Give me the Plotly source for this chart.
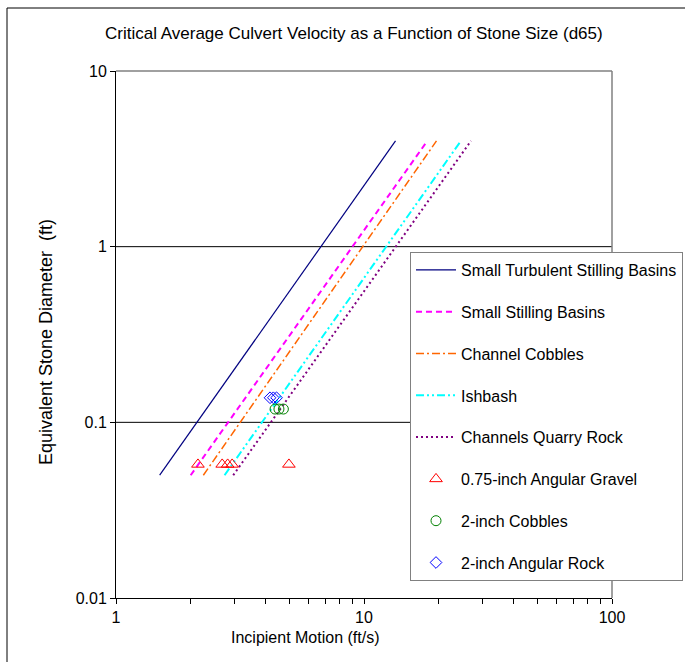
import plotly.graph_objects as go

# ---- data ----
line_names = ["Small Turbulent Stilling Basins", "Small Stilling Basins", "Channel Cobbles",
              "Ishbash", "Channels Quarry Rock"]
line_v = [[1.5, 13.4], [2.0, 18.0], [2.25, 19.6], [2.74, 24.6], [2.97, 27.0]]
line_d = [[0.05, 4.0], [0.05, 4.0], [0.05, 4.0], [0.05, 4.0], [0.05, 4.0]]

gravel_v = [2.14, 2.68, 2.82, 2.94, 4.98]
gravel_d = [0.0576, 0.0576, 0.0576, 0.0576, 0.0576]
cobble_v = [4.38, 4.54, 4.73]
cobble_d = [0.119, 0.119, 0.119]
rock_v = [4.18, 4.31, 4.44]
rock_d = [0.138, 0.138, 0.138]

x_tickvals = [1, 10, 100]
x_ticktext = ["1", "10", "100"]
y_tickvals = [0.01, 0.1, 1, 10]
y_ticktext = ["0.01", "0.1", "1", "10"]

title = "Critical Average Culvert Velocity as a Function of Stone Size (d65)"
x_title = "Incipient Motion (ft/s)"
y_title = "Equivalent Stone Diameter  (ft)"

# ---- styles ----
line_styles = [
    dict(color="#000080", width=1.2, dash="solid"),
    dict(color="#FF00FF", width=2, dash="6px,4px"),
    dict(color="#FF6600", width=1.5, dash="8px,3px,2px,3px"),
    dict(color="#00FFFF", width=2, dash="8px,3px,2px,3px,2px,3px"),
    dict(color="#800080", width=2, dash="2px,3px"),
]

FONT = "Arial, Liberation Sans, sans-serif"
W, H = 685, 662
L, R, T, B = 116, 612, 71, 598  # plot area in pixels

fig = go.Figure()
for i, (n, v, d) in enumerate(zip(line_names, line_v, line_d)):
    fig.add_trace(go.Scatter(x=v, y=d, mode="lines", name=n, line=line_styles[i],
                             legendgroup=str(i)))

fig.add_trace(go.Scatter(x=gravel_v, y=gravel_d, mode="markers", name="0.75-inch Angular Gravel",
                         marker=dict(symbol="triangle-up-open", size=11, color="#FF0000",
                                     line=dict(width=1)), legendgroup="5"))
fig.add_trace(go.Scatter(x=cobble_v, y=cobble_d, mode="markers", name="2-inch Cobbles",
                         marker=dict(symbol="circle-open", size=10, color="#008000",
                                     line=dict(width=1)), legendgroup="6"))
fig.add_trace(go.Scatter(x=rock_v, y=rock_d, mode="markers", name="2-inch Angular Rock",
                         marker=dict(symbol="diamond-open", size=9, color="#0000FF",
                                     line=dict(width=1)), legendgroup="7"))

pw, ph = R - L, B - T
def px(xp):
    return (xp - L) / pw
def py(yp):
    return (B - yp) / ph

shapes = [
    # outer chart frame
    dict(type="rect", xref="paper", yref="paper", x0=px(7), x1=px(700), y0=py(680), y1=py(8),
         line=dict(color="black", width=1), layer="below"),
    # horizontal gridlines
    dict(type="line", xref="paper", yref="y", x0=0, x1=1, y0=1, y1=1,
         line=dict(color="black", width=1), layer="below"),
    dict(type="line", xref="paper", yref="y", x0=0, x1=1, y0=0.1, y1=0.1,
         line=dict(color="black", width=1), layer="below"),
    # plot area border top/right (gray)
    dict(type="line", xref="paper", yref="paper", x0=0, x1=1, y0=1, y1=1,
         line=dict(color="#808080", width=1.5), layer="below"),
    dict(type="line", xref="paper", yref="paper", x0=1, x1=1, y0=0, y1=1,
         line=dict(color="#808080", width=1.5), layer="below"),
]

annotations = [
    dict(text=title, xref="paper", yref="paper", x=px(354), y=py(34), showarrow=False,
         font=dict(family=FONT, size=17, color="black"), xanchor="center", yanchor="middle"),
    dict(text=x_title, xref="paper", yref="paper", x=px(305), y=py(637), showarrow=False,
         font=dict(family=FONT, size=16, color="black"), xanchor="center", yanchor="middle"),
    dict(text=y_title, xref="paper", yref="paper", x=px(46), y=py(342), showarrow=False,
         textangle=-90, font=dict(family=FONT, size=18, color="black"),
         xanchor="center", yanchor="middle"),
]

fig.update_layout(
    width=W, height=H,
    margin=dict(l=L, r=W - R, t=T, b=H - B, pad=0, autoexpand=False),
    paper_bgcolor="white", plot_bgcolor="white",
    font=dict(family=FONT, size=16, color="black"),
    showlegend=True,
    legend=dict(x=px(410), y=py(252), xanchor="left", yanchor="top",
                bgcolor="white", bordercolor="#808080", borderwidth=1,
                font=dict(family=FONT, size=16, color="black"),
                traceorder="grouped", tracegroupgap=18, itemwidth=40),
    shapes=shapes, annotations=annotations,
)

fig.update_xaxes(type="log", range=[0, 2], tickvals=x_tickvals, ticktext=x_ticktext,
                 showgrid=False, zeroline=False, showline=True, linecolor="black", linewidth=1,
                 ticks="outside", ticklen=5, tickcolor="black",
                 tickfont=dict(family=FONT, size=16, color="black"),
                 minor=dict(ticks="outside", ticklen=5, tickcolor="black", dtick="D1",
                            showgrid=False))
fig.update_yaxes(type="log", range=[-2, 1], tickvals=y_tickvals, ticktext=y_ticktext,
                 showgrid=False, zeroline=False, showline=True, linecolor="black", linewidth=1,
                 ticks="outside", ticklen=5, tickcolor="black",
                 tickfont=dict(family=FONT, size=16, color="black"))

fig.write_html("out.html")
